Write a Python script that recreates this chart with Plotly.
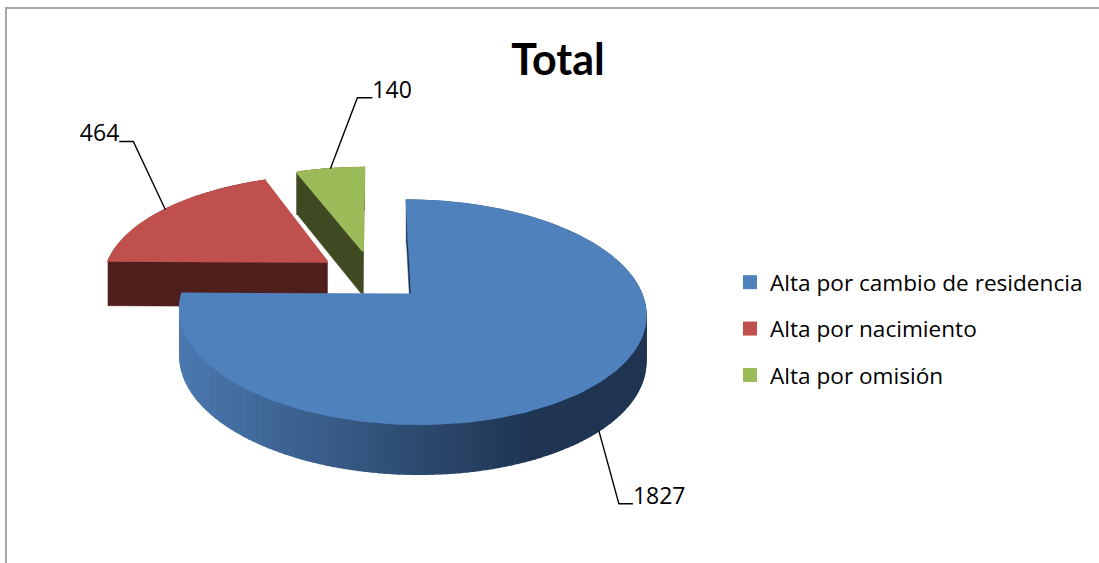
import math
import plotly.graph_objects as go

categories = ['Alta por cambio de residencia', 'Alta por nacimiento', 'Alta por omisión']
values = [1827, 464, 140]
top_colors = ['#4F81BD', '#C0504D', '#9BBB59']
side_colors = ['#1F3552', '#4E1F1D', '#3F4A22']

# projection of the tilted disc, in pixels of the 1099x563 page
CX, CY = 373, 276.5
A, B = 224, 103.5
K = 0.153
DEPTH = 45.5
explode = [0.24, 0.255, 0.258]


def project(u, v, z=0):
    s = 1 / (1 - K * v)
    return CX + A * u * s, CY + B * v * s + z * DEPTH * math.sqrt(s)


def mix(c1, c2, t):
    return 'rgb(%d,%d,%d)' % tuple(c1[i] + (c2[i] - c1[i]) * t for i in range(3))


fig = go.Figure()


def poly(points, color, width=0.5):
    xs = [p[0] for p in points]
    ys = [p[1] for p in points]
    fig.add_trace(go.Scatter(x=xs + xs[:1], y=ys + ys[:1], mode='lines', fill='toself', fillcolor=color,
                             line=dict(color=color, width=width), hoverinfo='skip', showlegend=False))


total = sum(values)
slices = []
start = 0
for i, val in enumerate(values):
    sweep = val / total * 2 * math.pi
    mid = start + sweep / 2
    ou, ov = explode[i] * math.sin(mid), -explode[i] * math.cos(mid)
    slices.append((start, sweep, mid, ou, ov))
    start += sweep

# far slices first so the blue one lies on top
anchors = {}
for i in [2, 1, 0]:
    a0, sweep, mid, ou, ov = slices[i]
    n = max(int(sweep * 40), 12)
    rim = []
    for j in range(n + 1):
        t = a0 + sweep * j / n
        rim.append((ou + math.sin(t), ov - math.cos(t)))

    # cut faces
    apex = (ou, ov)
    poly([project(*apex), project(*rim[0]), project(*rim[0], 1), project(*apex, 1)], side_colors[i])
    poly([project(*apex), project(*rim[-1]), project(*rim[-1], 1), project(*apex, 1)], side_colors[i])

    # outer wall, blue one is shaded left to right
    for j in range(n):
        p, q = rim[j], rim[j + 1]
        if i == 0:
            sx = project(*p)[0]
            t = min(max((sx - 185) / 350, 0), 1)
            col = mix((75, 120, 175), (31, 53, 82), t)
        else:
            col = side_colors[i]
        poly([project(*p), project(*q), project(*q, 1), project(*p, 1)], col, 1.5)

    poly([project(*apex)] + [project(*r) for r in rim], top_colors[i], 2)

    mu, mv = ou + math.sin(mid), ov - math.cos(mid)
    anchors[i] = project(mu, mv, 1 if i == 0 else 0)

# leader lines with the value at the elbow end, the value sits a little above the line
elbows = [(20, 73, 14), (-32, -68, -14), (27, -71, 15)]
for i in range(3):
    ax, ay = anchors[i]
    dx, dy, run = elbows[i]
    fig.add_trace(go.Scatter(x=[ax, ax + dx, ax + dx + run], y=[ay, ay + dy, ay + dy], mode='lines',
                             line=dict(color='black', width=1.4), hoverinfo='skip', showlegend=False))
    fig.add_trace(go.Scatter(x=[ax + dx + run], y=[ay + dy - 6], mode='text', text=[str(values[i])],
                             textposition='middle right' if run > 0 else 'middle left',
                             textfont=dict(family='Open Sans', size=23, color='black'),
                             hoverinfo='skip', showlegend=False))

for i in range(3):
    fig.add_trace(go.Scatter(x=[None], y=[None], mode='markers', name=categories[i], legendgroup=categories[i],
                             marker=dict(symbol='square', size=14, color=top_colors[i])))

fig.update_layout(
    width=1099, height=563, margin=dict(l=0, r=0, t=0, b=0),
    paper_bgcolor='white', plot_bgcolor='white',
    title=dict(text='<b>Total</b>', x=558 / 1099, y=1 - 60 / 563, xanchor='center', yanchor='middle',
               font=dict(family='Lato', size=43, color='black')),
    xaxis=dict(range=[0, 1099], visible=False),
    yaxis=dict(range=[563, 0], visible=False),
    legend=dict(x=730 / 1099, y=1 - 261 / 563, xanchor='left', yanchor='top', tracegroupgap=14,
                font=dict(family='Open Sans', size=22.6, color='black'), bgcolor='rgba(0,0,0,0)'),
    shapes=[dict(type='rect', xref='x', yref='y', x0=6, y0=8, x1=1110, y1=575,
                 line=dict(color='#A6A6A6', width=2))],
)

# the page margin would push the whole figure 8 px in
fig.write_html('out.html', config=dict(displayModeBar=False),
               post_script="document.body.style.margin='0';document.body.style.overflow='hidden';")
